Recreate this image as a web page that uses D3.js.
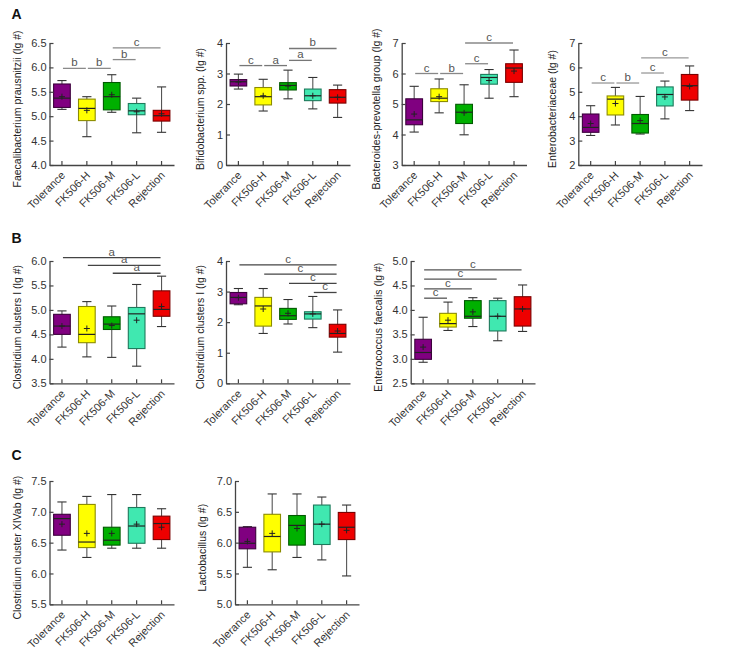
<!DOCTYPE html>
<html><head><meta charset="utf-8">
<script src="https://cdn.jsdelivr.net/npm/d3@7/dist/d3.min.js"></script>
<style>
body{margin:0;background:#fff;}
svg{display:block;font-family:"Liberation Sans",Arial,sans-serif;}
</style></head>
<body><svg id="chart" width="729" height="651"></svg>
<script>
const categories = ["Tolerance","FK506-H","FK506-M","FK506-L","Rejection"];
// each row: [whiskerLow, q1, median, q3, whiskerHigh, mean]
const faecali = [[5.14,5.18,5.37,5.66,5.73,5.40],[4.58,4.91,5.16,5.35,5.40,5.12],[5.08,5.13,5.40,5.69,5.85,5.44],[4.66,5.03,5.11,5.26,5.37,5.09],[4.67,4.90,5.01,5.12,5.60,5.05]];
const bifido = [[2.49,2.59,2.73,2.80,2.98,2.72],[1.77,1.97,2.24,2.54,2.81,2.27],[2.17,2.46,2.61,2.70,3.11,2.59],[1.84,2.11,2.27,2.49,2.87,2.27],[1.56,2.03,2.22,2.47,2.62,2.22]];
const bactero = [[4.08,4.32,4.48,5.17,5.58,4.67],[4.71,5.08,5.19,5.50,5.82,5.24],[3.99,4.36,4.73,4.99,5.63,4.71],[5.19,5.65,5.87,5.97,6.13,5.77],[5.24,5.71,6.18,6.32,6.77,6.08]];
const entero = [[3.21,3.34,3.54,4.09,4.43,3.70],[3.64,4.05,4.70,4.83,5.18,4.52],[3.27,3.31,3.70,4.07,4.81,3.82],[3.89,4.42,4.89,5.20,5.44,4.79],[4.23,4.66,5.25,5.71,6.06,5.22]];
const clostI = [[4.24,4.50,4.67,4.91,4.98,4.67],[4.04,4.33,4.50,5.07,5.17,4.62],[4.03,4.60,4.71,4.86,5.08,4.68],[3.85,4.21,4.92,5.05,5.52,4.79],[4.66,4.87,5.01,5.39,5.69,5.07]];
const clostIb = [[2.57,2.60,2.81,2.97,3.10,2.80],[1.63,1.87,2.53,2.81,3.10,2.43],[1.94,2.09,2.21,2.45,2.74,2.29],[1.82,2.10,2.27,2.34,2.84,2.27],[1.02,1.51,1.63,1.93,2.40,1.71]];
const enterococcus = [[2.93,2.99,3.13,3.40,3.85,3.24],[3.58,3.65,3.72,3.93,4.16,3.79],[3.66,3.83,3.87,4.19,4.25,3.96],[3.37,3.57,3.87,4.19,4.24,3.87],[3.56,3.67,4.02,4.27,4.51,4.02]];
const clostXIV = [[6.38,6.62,6.89,6.96,7.16,6.80],[6.26,6.42,6.51,7.12,7.25,6.65],[6.41,6.46,6.54,6.75,7.28,6.65],[6.41,6.49,6.77,7.07,7.28,6.80],[6.41,6.55,6.81,6.93,7.05,6.75]];
const lacto = [[5.60,5.90,5.99,6.25,6.26,6.02],[5.56,5.85,6.10,6.46,6.79,6.15],[5.76,5.96,6.28,6.44,6.79,6.23],[5.72,5.97,6.30,6.61,6.74,6.30],[5.46,6.05,6.25,6.49,6.61,6.20]];

// significance bars: [fromGroup, toGroup, yValue, label]
const faecaliSig = [[0,1,5.98,"b"],[1,2,5.98,"b"],[2,3,6.16,"b"],[2,4,6.40,"c"]];
const bifidoSig = [[0,1,3.26,"c"],[1,2,3.26,"a"],[2,3,3.43,"a"],[2,4,3.82,"b"]];
const bacteroSig = [[0,1,6.0,"c"],[1,2,6.0,"b"],[2,3,6.32,"c"],[2,4,7.0,"c"]];
const enteroSig = [[0,1,5.36,"c"],[1,2,5.36,"b"],[2,3,5.77,"c"],[2,4,6.39,"c"]];
const clostISig = [[0,4,6.07,"a"],[1,4,5.91,"a"],[2,4,5.75,"a"]];
const clostIbSig = [[0,4,3.87,"c"],[1,4,3.57,"c"],[2,4,3.27,"c"],[3,4,2.97,"c"]];
const enterococcusSig = [[0,4,4.82,"c"],[0,3,4.63,"c"],[0,2,4.43,"c"],[0,1,4.24,"c"]];

// tick labels
const faecaliTicks = [4.0,4.5,5.0,5.5,6.0,6.5];
const bifidoTicks = [0,1,2,3,4];
const bacteroTicks = [3,4,5,6,7];
const enteroTicks = [2,3,4,5,6,7];
const clostITicks = [3.5,4.0,4.5,5.0,5.5,6.0];
const clostIbTicks = [0,1,2,3,4];
const enterococcusTicks = [2.5,3.0,3.5,4.0,4.5,5.0];
const clostXIVTicks = [5.5,6.0,6.5,7.0,7.5];
const lactoTicks = [5.0,5.5,6.0,6.5,7.0];

const titles = ["Faecalibacterium prausnitzii (lg #)","Bifidobacterium spp. (lg #)","Bacteroides-prevotella group (lg #)","Enterobacteriaceae (lg #)","Clostridium clusters I (lg #)","Clostridium clusters I (lg #)","Enterococcus faecalis (lg #)","Clostridium cluster XIVab (lg #)","Lactobacillus (lg #)"];

const fills = ["#800080","#ffff00","#00b000","#40e8b0","#ee0000"];
const strokes = ["#3c003c","#8c8c00","#005a00","#1e7a5c","#7a0000"];

const rows = {A:[43,165],B:[261,383.3],C:[481,604.3]};
const panels = [
  {row:"A",left:49.5,right:174,stats:faecali,sig:faecaliSig,ticks:faecaliTicks,dec:1,title:titles[0],sigColor:"#8a8a8a"},
  {row:"A",left:226,right:350,stats:bifido,sig:bifidoSig,ticks:bifidoTicks,dec:0,title:titles[1],sigColor:"#777"},
  {row:"A",left:401.7,right:526.5,stats:bactero,sig:bacteroSig,ticks:bacteroTicks,dec:0,title:titles[2],sigColor:"#888"},
  {row:"A",left:578.3,right:702,stats:entero,sig:enteroSig,ticks:enteroTicks,dec:0,title:titles[3],sigColor:"#999"},
  {row:"B",left:49.5,right:174,stats:clostI,sig:clostISig,ticks:clostITicks,dec:1,title:titles[4],sigColor:"#444"},
  {row:"B",left:226,right:350,stats:clostIb,sig:clostIbSig,ticks:clostIbTicks,dec:0,title:titles[5],sigColor:"#444"},
  {row:"B",left:410.7,right:535,stats:enterococcus,sig:enterococcusSig,ticks:enterococcusTicks,dec:1,title:titles[6],sigColor:"#555"},
  {row:"C",left:49.5,right:174,stats:clostXIV,sig:[],ticks:clostXIVTicks,dec:1,title:titles[7],sigColor:"#444"},
  {row:"C",left:235,right:359,stats:lacto,sig:[],ticks:lactoTicks,dec:1,title:titles[8],sigColor:"#444"}
];

const svg = d3.select("#chart");
const axisColor = "#444";

panels.forEach(p => {
  const [top,bottom] = rows[p.row];
  const g = svg.append("g");
  const x = d3.scaleBand().domain(categories).range([p.left,p.right]).paddingInner(0.33).paddingOuter(0.165);
  const y = d3.scaleLinear().domain([p.ticks[0], p.ticks[p.ticks.length-1]]).range([bottom, top]);
  const bw = x.bandwidth();
  const capW = bw*0.55;

  // boxes
  p.stats.forEach((s,i) => {
    const cx = x(categories[i]) + bw/2;
    const bg = g.append("g");
    bg.append("line").attr("x1",cx).attr("x2",cx).attr("y1",y(s[4])).attr("y2",y(s[0])).attr("stroke","#555").attr("stroke-width",1.1);
    [s[0],s[4]].forEach(v => bg.append("line").attr("x1",cx-capW/2).attr("x2",cx+capW/2).attr("y1",y(v)).attr("y2",y(v)).attr("stroke","#333").attr("stroke-width",1.1));
    bg.append("rect").attr("x",x(categories[i])).attr("width",bw).attr("y",y(s[3])).attr("height",y(s[1])-y(s[3]))
      .attr("fill",fills[i]).attr("stroke",strokes[i]).attr("stroke-width",1.1);
    bg.append("line").attr("x1",x(categories[i])).attr("x2",x(categories[i])+bw).attr("y1",y(s[2])).attr("y2",y(s[2])).attr("stroke","#222").attr("stroke-width",1.2);
    const my = y(s[5]);
    bg.append("line").attr("x1",cx-3).attr("x2",cx+3).attr("y1",my).attr("y2",my).attr("stroke","#222").attr("stroke-width",1);
    bg.append("line").attr("x1",cx).attr("x2",cx).attr("y1",my-3).attr("y2",my+3).attr("stroke","#222").attr("stroke-width",1);
  });

  // significance bars
  p.sig.forEach(sg => {
    const x1 = x(categories[sg[0]]) + bw/2 + 1, x2 = x(categories[sg[1]]) + bw/2 - 1;
    const yy = y(sg[2]);
    g.append("line").attr("x1",x1).attr("x2",x2).attr("y1",yy).attr("y2",yy).attr("stroke",p.sigColor).attr("stroke-width",1.3);
    g.append("text").attr("x",(x1+x2)/2).attr("y",yy-2).attr("text-anchor","middle").attr("font-size",11.5).attr("fill","#555").text(sg[3]);
  });

  // axes
  const fmt = d3.format(p.dec ? ".1f" : "d");
  const ya = g.append("g").attr("transform",`translate(${p.left},0)`)
    .call(d3.axisLeft(y).tickValues(p.ticks).tickFormat(fmt).tickSize(-4).tickSizeOuter(0).tickPadding(3));
  const xa = g.append("g").attr("transform",`translate(0,${bottom})`)
    .call(d3.axisBottom(x).tickSize(-4).tickSizeOuter(0));
  [ya,xa].forEach(a => {
    a.select(".domain").attr("stroke",axisColor).attr("stroke-width",1.3);
    a.selectAll(".tick line").attr("stroke",axisColor).attr("stroke-width",1.2);
    a.selectAll("text").attr("fill","#333").attr("font-size",11).attr("font-family","Liberation Sans, Arial, sans-serif");
  });
  xa.selectAll(".tick text")
    .attr("text-anchor","end").attr("y",0).attr("dy",0)
    .attr("transform","translate(4,11) rotate(-45)");

  // y title
  const tx = p.left - (p.dec ? 29 : 22);
  g.append("text").attr("transform",`translate(${tx},${(top+bottom)/2+5}) rotate(-90)`)
    .attr("text-anchor","middle").attr("font-size",10.5).attr("fill","#222").text(p.title);
});

// panel letters
[["A",18.5],["B",243.3],["C",460]].forEach(([t,yy]) => {
  svg.append("text").attr("x",11.5).attr("y",yy).attr("font-size",14).attr("font-weight","bold").attr("fill","#111").text(t);
});
</script>
</body></html>
